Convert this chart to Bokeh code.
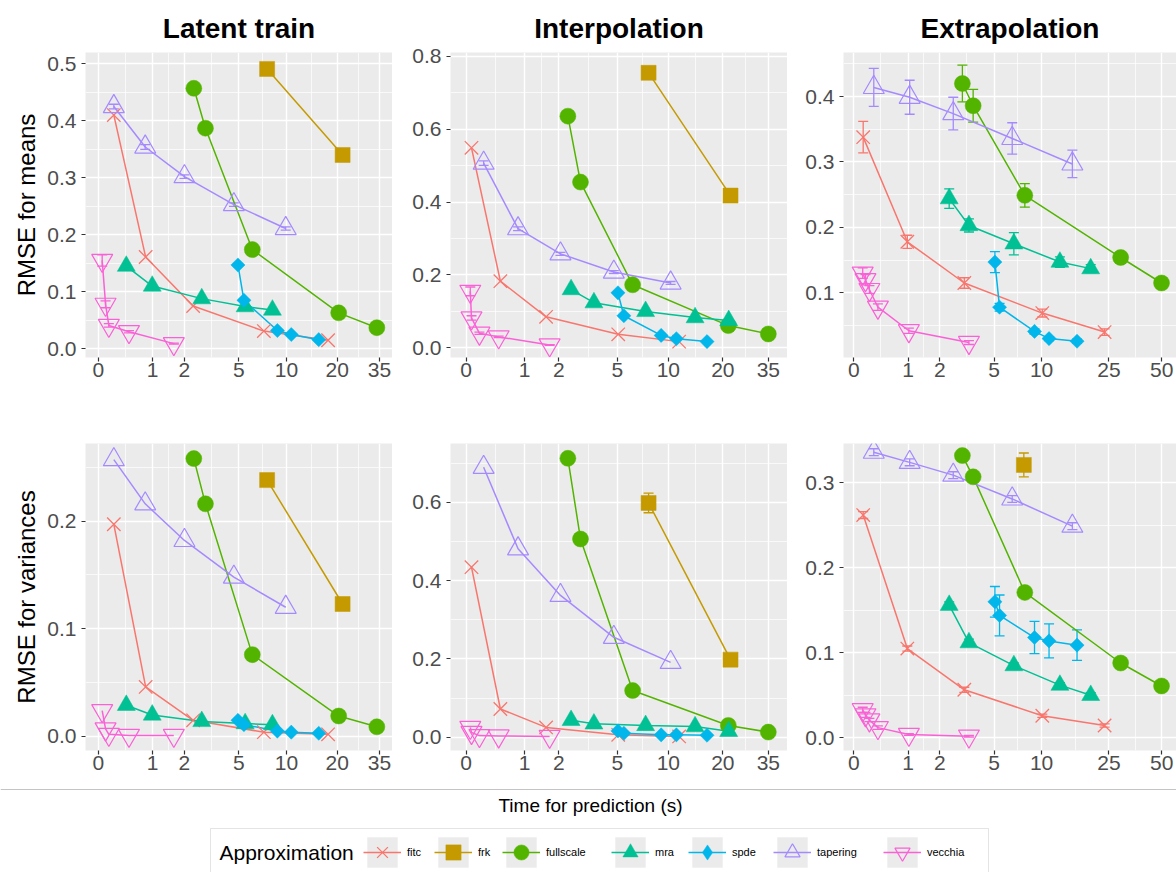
import numpy as np
from bokeh.plotting import figure
from bokeh.layouts import column, row
from bokeh.models import (Range1d, FixedTicker, CustomJSTickFormatter, PrintfTickFormatter,
                          Whisker, TeeHead, ColumnDataSource, Legend, LegendItem, Label,
                          BoxAnnotation, Span)
from bokeh.embed import file_html
from bokeh.resources import INLINE

# ---------------------------------------------------------------- data
methods = ["fitc", "frk", "fullscale", "mra", "spde", "tapering", "vecchia"]
method_colors = ["#F8766D", "#C49A00", "#53B400", "#00C094", "#00B6EB", "#A58AFF", "#FB61D7"]
column_titles = ["Latent train", "Interpolation", "Extrapolation"]
row_labels = ["RMSE for means", "RMSE for variances"]
x_title = "Time for prediction (s)"
legend_title = "Approximation"

x_ticks_latent = [0, 1, 2, 5, 10, 20, 35]
x_ticks_interp = [0, 1, 2, 5, 10, 20, 35]
x_ticks_extrap = [0, 1, 2, 5, 10, 25, 50]

y_ticks_lt_m = [0.0, 0.1, 0.2, 0.3, 0.4, 0.5]
y_ticks_ip_m = [0.0, 0.2, 0.4, 0.6, 0.8]
y_ticks_ex_m = [0.1, 0.2, 0.3, 0.4]
y_ticks_lt_v = [0.0, 0.1, 0.2]
y_ticks_ip_v = [0.0, 0.2, 0.4, 0.6]
y_ticks_ex_v = [0.0, 0.1, 0.2, 0.3]

# Latent train: time (s), RMSE means, RMSE variances
lt_t_fitc = [0.22, 0.83, 2.35, 7.25, 17.7]
lt_t_frk = [7.6, 21.5]
lt_t_fullscale = [2.38, 2.92, 6.12, 20.4, 33.8]
lt_t_mra = [0.43, 0.99, 2.74, 5.5, 8.2]
lt_t_spde = [4.93, 5.4, 8.8, 10.7, 15.6]
lt_t_tapering = [0.22, 0.82, 2.0, 4.63, 9.9]
lt_t_vecchia = [0.052, 0.098, 0.145, 0.48, 1.62]

lt_m_fitc = [0.41, 0.161, 0.075, 0.031, 0.015]
lt_m_frk = [0.491, 0.340]
lt_m_fullscale = [0.457, 0.387, 0.174, 0.063, 0.037]
lt_m_mra = [0.145, 0.110, 0.088, 0.074, 0.068]
lt_m_spde = [0.147, 0.085, 0.032, 0.025, 0.016]
lt_m_tapering = [0.425, 0.354, 0.302, 0.253, 0.211]
lt_m_vecchia = [0.155, 0.078, 0.041, 0.030, 0.009]
lt_em_tapering = [0.004, 0.004, 0.003, 0.003, 0.003]
lt_em_vecchia = [0.010, 0.006, 0.003, 0.002, 0.001]

lt_v_fitc = [0.197, 0.046, 0.015, 0.004, 0.002]
lt_v_frk = [0.238, 0.123]
lt_v_fullscale = [0.258, 0.216, 0.076, 0.019, 0.009]
lt_v_mra = [0.029, 0.020, 0.014, 0.012, 0.011]
lt_v_spde = [0.015, 0.011, 0.005, 0.004, 0.003]
lt_v_tapering = [0.257, 0.216, 0.182, 0.148, 0.120]
lt_v_vecchia = [0.024, 0.007, 0.002, 0.001, 0.001]

# Interpolation
ip_t_fitc = [0.065, 0.50, 1.58, 5.07, 11.5]
ip_t_frk = [7.7, 22.0]
ip_t_fullscale = [2.34, 2.88, 6.2, 21.4, 35.0]
ip_t_mra = [2.47, 3.55, 7.4, 14.1, 21.5]
ip_t_spde = [5.05, 5.49, 9.1, 11.1, 16.4]
ip_t_tapering = [0.23, 0.85, 2.06, 4.76, 10.3]
ip_t_vecchia = [0.05, 0.065, 0.17, 0.47, 1.69]

ip_m_fitc = [0.549, 0.183, 0.085, 0.037, 0.017]
ip_m_frk = [0.755, 0.418]
ip_m_fullscale = [0.636, 0.455, 0.173, 0.061, 0.038]
ip_m_mra = [0.160, 0.124, 0.100, 0.083, 0.075]
ip_m_spde = [0.151, 0.088, 0.034, 0.025, 0.017]
ip_m_tapering = [0.507, 0.327, 0.258, 0.208, 0.178]
ip_m_vecchia = [0.155, 0.082, 0.040, 0.030, 0.008]
ip_em_tapering = [0.006, 0.005, 0.004, 0.004, 0.004]
ip_em_vecchia = [0.012, 0.006, 0.003, 0.002, 0.001]

ip_v_fitc = [0.434, 0.072, 0.025, 0.006, 0.002]
ip_v_frk = [0.598, 0.198]
ip_v_fullscale = [0.712, 0.506, 0.119, 0.030, 0.013]
ip_v_mra = [0.043, 0.034, 0.030, 0.027, 0.015]
ip_v_spde = [0.016, 0.010, 0.006, 0.006, 0.005]
ip_v_tapering = [0.689, 0.481, 0.362, 0.255, 0.191]
ip_v_vecchia = [0.025, 0.012, 0.004, 0.003, 0.002]
ip_ev_frk = [0.025, 0.008]

# Extrapolation
ex_t_fitc = [0.127, 0.98, 3.1, 10.1, 23.6]
ex_t_frk = [7.77]
ex_t_fullscale = [3.0, 3.59, 7.88, 29.2, 49.9]
ex_t_mra = [2.38, 3.35, 6.72, 12.9, 19.6]
ex_t_spde = [5.06, 5.43, 9.05, 11.1, 16.3]
ex_t_tapering = [0.29, 1.04, 2.56, 6.56, 15.3]
ex_t_vecchia = [0.12, 0.16, 0.22, 0.36, 1.02, 3.35]

ex_m_fitc = [0.338, 0.178, 0.115, 0.069, 0.040]
ex_m_fullscale = [0.420, 0.386, 0.249, 0.154, 0.115]
ex_m_mra = [0.244, 0.203, 0.175, 0.147, 0.137]
ex_m_spde = [0.147, 0.078, 0.041, 0.030, 0.026]
ex_m_tapering = [0.414, 0.399, 0.374, 0.336, 0.297]
ex_m_vecchia = [0.130, 0.120, 0.105, 0.078, 0.042, 0.024]

ex_em_fitc = [0.024, 0.010, 0.008, 0.006, 0.005]
ex_em_fullscale = [0.028, 0.025, 0.018, 0.006, 0.005]
ex_em_mra = [0.015, 0.010, 0.017, 0.008, 0.006]
ex_em_spde = [0.016, 0.006, 0.004, 0.003, 0.003]
ex_em_tapering = [0.029, 0.026, 0.025, 0.024, 0.021]
ex_em_vecchia = [0.008, 0.008, 0.006, 0.005, 0.004, 0.003]

ex_v_fitc = [0.262, 0.105, 0.0565, 0.026, 0.0145]
ex_v_frk = [0.321]
ex_v_fullscale = [0.332, 0.307, 0.171, 0.088, 0.061]
ex_v_mra = [0.156, 0.112, 0.085, 0.062, 0.050]
ex_v_spde = [0.160, 0.144, 0.118, 0.114, 0.109]
ex_v_tapering = [0.336, 0.324, 0.309, 0.281, 0.249]
ex_v_vecchia = [0.033, 0.027, 0.021, 0.012, 0.004, 0.002]

ex_ev_fitc = [0.004, 0.003, 0.003, 0.002, 0.002]
ex_ev_frk = [0.014]
ex_ev_fullscale = [0.004, 0.004, 0.004, 0.003, 0.003]
ex_ev_mra = [0.004, 0.004, 0.003, 0.003, 0.003]
ex_ev_spde = [0.018, 0.024, 0.019, 0.020, 0.018]
ex_ev_tapering = [0.004, 0.004, 0.004, 0.004, 0.004]
ex_ev_vecchia = [0.003, 0.003, 0.002, 0.002, 0.001, 0.001]

# ---------------------------------------------------------------- layout / style
FONT = "Liberation Sans"
col_keys = ["lt", "ip", "ex"]
col_xticks = [x_ticks_latent, x_ticks_interp, x_ticks_extrap]
col_xrange = [(-0.162, 3.749), (-0.186, 3.811), (-0.132, 4.121)]
col_frame_w = [307, 337, 333]
col_left = [85, 58, 56]
row_top = [52, 46]
row_frame_h = [305, 307]
row_bottom = [40, 36]
panel_yticks = {("lt", "m"): y_ticks_lt_m, ("ip", "m"): y_ticks_ip_m, ("ex", "m"): y_ticks_ex_m,
                ("lt", "v"): y_ticks_lt_v, ("ip", "v"): y_ticks_ip_v, ("ex", "v"): y_ticks_ex_v}
panel_yrange = {("lt", "m"): (-0.0153, 0.5198), ("ip", "m"): (-0.0266, 0.8108), ("ex", "m"): (0.0011, 0.4674),
                ("lt", "v"): (-0.013, 0.272), ("ip", "v"): (-0.034, 0.7498), ("ex", "v"): (-0.0149, 0.3462)}


def marker_kw(m, c, legend=False):
    if m == "fitc":
        return dict(marker="x", size=19, line_color=c, line_width=1.3)
    if m == "frk":
        return dict(marker="square", size=15, fill_color=c, line_color=c, line_width=0.5)
    if m == "fullscale":
        return dict(marker="circle", size=16, fill_color=c, line_color=c, line_width=0.5)
    if m == "mra":
        return dict(marker="triangle", size=18, fill_color=c, line_color=c, line_width=0.5)
    if m == "spde":
        if legend:
            return dict(marker="diamond", size=15, fill_color=c, line_color=c, line_width=0.5)
        return dict(marker="square", size=10, angle=np.pi / 4, fill_color=c, line_color=c, line_width=0.5)
    if m == "tapering":
        return dict(marker="triangle", size=21, fill_color=None, line_color=c, line_width=1.2)
    return dict(marker="inverted_triangle", size=21, fill_color=None, line_color=c, line_width=1.2)


def minor_breaks(major, lo, hi):
    b = list(major)
    if lo < b[0]:
        b = [b[0] - (b[1] - b[0])] + b
    if hi > b[-1]:
        b = b + [b[-1] + (b[-1] - b[-2])]
    mids = [(a + c) / 2 for a, c in zip(b[:-1], b[1:])]
    return [m for m in mids if lo <= m <= hi]


def get_series(col, m, kind):
    g = globals()
    return g.get(f"{col}_t_{m}"), g.get(f"{col}_{kind}_{m}"), g.get(f"{col}_e{kind}_{m}")


def make_panel(ci, ri):
    col = col_keys[ci]
    kind = "m" if ri == 0 else "v"
    xr = col_xrange[ci]
    yr = panel_yrange[(col, kind)]
    p = figure(frame_width=col_frame_w[ci], frame_height=row_frame_h[ri],
               x_range=Range1d(*xr), y_range=Range1d(*yr),
               min_border_left=col_left[ci], min_border_right=0,
               min_border_top=row_top[ri], min_border_bottom=row_bottom[ri],
               output_backend="svg", toolbar_location=None,
               background_fill_color="#EBEBEB", border_fill_color="white",
               outline_line_color=None)
    if ri == 0:
        p.title.text = column_titles[ci]
        p.title.align = "center"
        p.title.text_font = FONT
        p.title.text_font_size = "28px"
        p.title.text_font_style = "bold"
        p.title.text_color = "black"
        p.title.standoff = 18

    xt = [float(np.log1p(v)) for v in col_xticks[ci]]
    p.xaxis.ticker = FixedTicker(ticks=xt, minor_ticks=minor_breaks(xt, *xr))
    p.xaxis.formatter = CustomJSTickFormatter(code="return String(Math.round(Math.exp(tick) - 1));")
    yt = panel_yticks[(col, kind)]
    p.yaxis.ticker = FixedTicker(ticks=yt, minor_ticks=minor_breaks(yt, *yr))
    p.yaxis.formatter = PrintfTickFormatter(format="%.1f")

    for ax in (p.xaxis[0], p.yaxis[0]):
        ax.axis_line_color = None
        ax.major_tick_line_color = "#333333"
        ax.major_tick_line_width = 1.2
        ax.major_tick_out = 4
        ax.major_tick_in = 0
        ax.minor_tick_line_color = None
        ax.major_label_text_color = "#4D4D4D"
        ax.major_label_text_font = FONT
        ax.major_label_text_font_size = "21px"
    p.xaxis[0].major_label_standoff = 1
    p.yaxis[0].major_label_standoff = 5
    if ci == 0:
        p.yaxis.axis_label = row_labels[ri]
        p.yaxis.axis_label_text_font = FONT
        p.yaxis.axis_label_text_font_size = "24px"
        p.yaxis.axis_label_text_font_style = "normal"
        p.yaxis.axis_label_text_color = "black"
        p.yaxis.axis_label_standoff = 4

    for g in (p.xgrid[0], p.ygrid[0]):
        g.grid_line_color = "white"
        g.grid_line_width = 1.4
        g.minor_grid_line_color = "white"
        g.minor_grid_line_width = 0.7

    data = []
    for i, m in enumerate(methods):
        t, vals, err = get_series(col, m, kind)
        if t is None or vals is None:
            continue
        data.append((m, method_colors[i], np.log1p(np.array(t)), np.array(vals), err))
    for m, c, x, y, err in data:
        p.line(x=x, y=y, line_color=c, line_width=1.5)
    for m, c, x, y, err in data:
        p.scatter(x=x, y=y, **marker_kw(m, c))
    for m, c, x, y, err in data:
        if err is None:
            continue
        e = np.array(err)
        src = ColumnDataSource(dict(x=x, lo=y - e, hi=y + e))
        w = Whisker(source=src, base="x", lower="lo", upper="hi", dimension="height",
                    line_color=c, line_width=1.3,
                    upper_head=TeeHead(size=10, line_color=c, line_width=1.3),
                    lower_head=TeeHead(size=10, line_color=c, line_width=1.3))
        p.add_layout(w)
    return p


rows = []
for ri in range(2):
    rows.append(row([make_panel(ci, ri) for ci in range(3)], spacing=0))

# ---------------------------------------------------------------- bottom strip: axis title + legend
W, H = 1176, 86
pb = figure(width=W, height=H, x_range=Range1d(0, W), y_range=Range1d(0, H),
            x_axis_type=None, y_axis_type=None, min_border=0,
            output_backend="svg", toolbar_location=None,
            background_fill_color="white", border_fill_color="white", outline_line_color=None)
pb.grid.visible = False
pb.add_layout(Span(location=83, dimension="width", line_color="#C4C4C4", line_width=1.2))
pb.add_layout(Label(x=590, y=67, text=x_title, text_align="center", text_baseline="middle",
                    text_font=FONT, text_font_size="19px", text_color="black"))
pb.add_layout(BoxAnnotation(left=210, right=988, bottom=-40, top=44, fill_alpha=0,
                            line_color="#A6A6A6", line_width=1))
pb.add_layout(Label(x=219, y=20, text=legend_title, text_align="left", text_baseline="middle",
                    text_font=FONT, text_font_size="21px", text_color="black"))
key_left = [363, 434, 502, 611, 688, 773, 883]
for i, m in enumerate(methods):
    c = method_colors[i]
    # legend-only renderers, kept outside the visible range
    r_bg = pb.rect(x=[-999], y=[-999], width=1, height=1, fill_color="#EBEBEB", line_color=None)
    r_ln = pb.line(x=[-999, -998], y=[-999, -999], line_color=c, line_width=1.5)
    r_pt = pb.scatter(x=[-999], y=[-999], **marker_kw(m, c, legend=True))
    lg = Legend(items=[LegendItem(label=m, renderers=[r_bg, r_ln, r_pt])],
                location=(key_left[i], 1), orientation="horizontal",
                glyph_width=38, glyph_height=38, padding=0, margin=0, spacing=0,
                label_standoff=6, label_text_font=FONT, label_text_font_size="11px",
                label_text_color="black", border_line_color=None, background_fill_alpha=0)
    pb.add_layout(lg)

layout = column([rows[0], rows[1], pb], spacing=0)
open("out.html", "w").write(file_html(layout, INLINE))
